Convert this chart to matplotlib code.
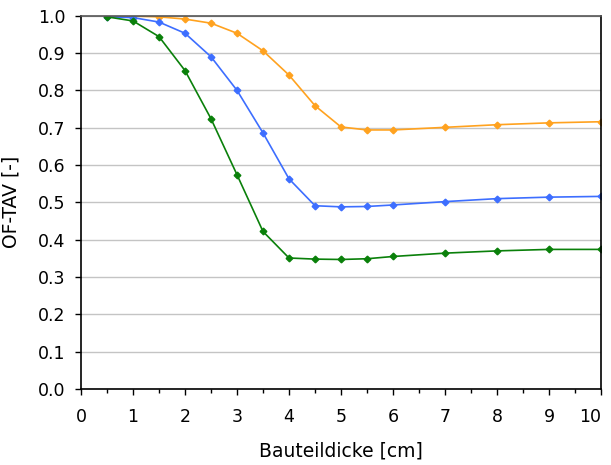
import matplotlib.pyplot as plt
from matplotlib.ticker import MultipleLocator

plt.rcParams['font.family'] = ['DejaVu Sans']

dicke = [0.5, 1, 1.5, 2, 2.5, 3, 3.5, 4, 4.5, 5, 5.5, 6, 7, 8, 9, 10]
of_orange = [1.0, 0.999, 0.997, 0.991, 0.980, 0.953, 0.906, 0.841, 0.759, 0.702,
             0.694, 0.694, 0.701, 0.708, 0.713, 0.716]
of_blue = [0.997, 0.995, 0.983, 0.953, 0.890, 0.800, 0.686, 0.563, 0.491, 0.488,
           0.489, 0.493, 0.502, 0.510, 0.514, 0.516]
of_green = [0.997, 0.986, 0.944, 0.853, 0.724, 0.574, 0.422, 0.351, 0.348, 0.347,
            0.349, 0.355, 0.364, 0.370, 0.374, 0.374]
x_ticks = list(range(0, 11))

fig = plt.figure(figsize=(6.11, 4.65), dpi=100)
ax = fig.add_axes([0.1326, 0.1634, 0.851, 0.8028])

ax.plot(dicke, of_orange, color='#FFA21F', marker='D', markersize=3.4, lw=1.2)
ax.plot(dicke, of_blue, color='#3D6EFF', marker='D', markersize=3.4, lw=1.2)
ax.plot(dicke, of_green, color='#0A800A', marker='D', markersize=3.4, lw=1.2)

ax.set_xlim(0, 10)
ax.set_ylim(0, 1.0)
ax.set_xticks(x_ticks)
ax.xaxis.set_minor_locator(MultipleLocator(0.5))
ax.yaxis.set_major_locator(MultipleLocator(0.1))
ax.yaxis.set_major_formatter(plt.FormatStrFormatter('%.1f'))
ax.grid(axis='y', color='#c4c4c4', lw=1.0)
ax.set_axisbelow(True)

ax.tick_params(axis='both', which='major', direction='out', length=4, width=1,
               labelsize=12.5)
ax.tick_params(axis='x', which='major', pad=10)
ax.tick_params(axis='y', which='major', pad=7)
ax.tick_params(axis='x', which='minor', direction='out', length=3, width=1)
for s in ['left', 'bottom', 'right']:
    ax.spines[s].set_color('black')
    ax.spines[s].set_linewidth(1.2)
ax.spines['top'].set_color('#555555')
ax.spines['top'].set_linewidth(1.2)

# Excel schiebt die letzte Beschriftung nach innen
ax.xaxis.get_major_ticks()[-1].label1.set_horizontalalignment('right')

ax.set_xlabel('Bauteildicke [cm]', fontsize=13.5, labelpad=11)
ax.set_ylabel('OF-TAV [-]', fontsize=13.5, labelpad=13)

fig.savefig('out.png', dpi=100)
